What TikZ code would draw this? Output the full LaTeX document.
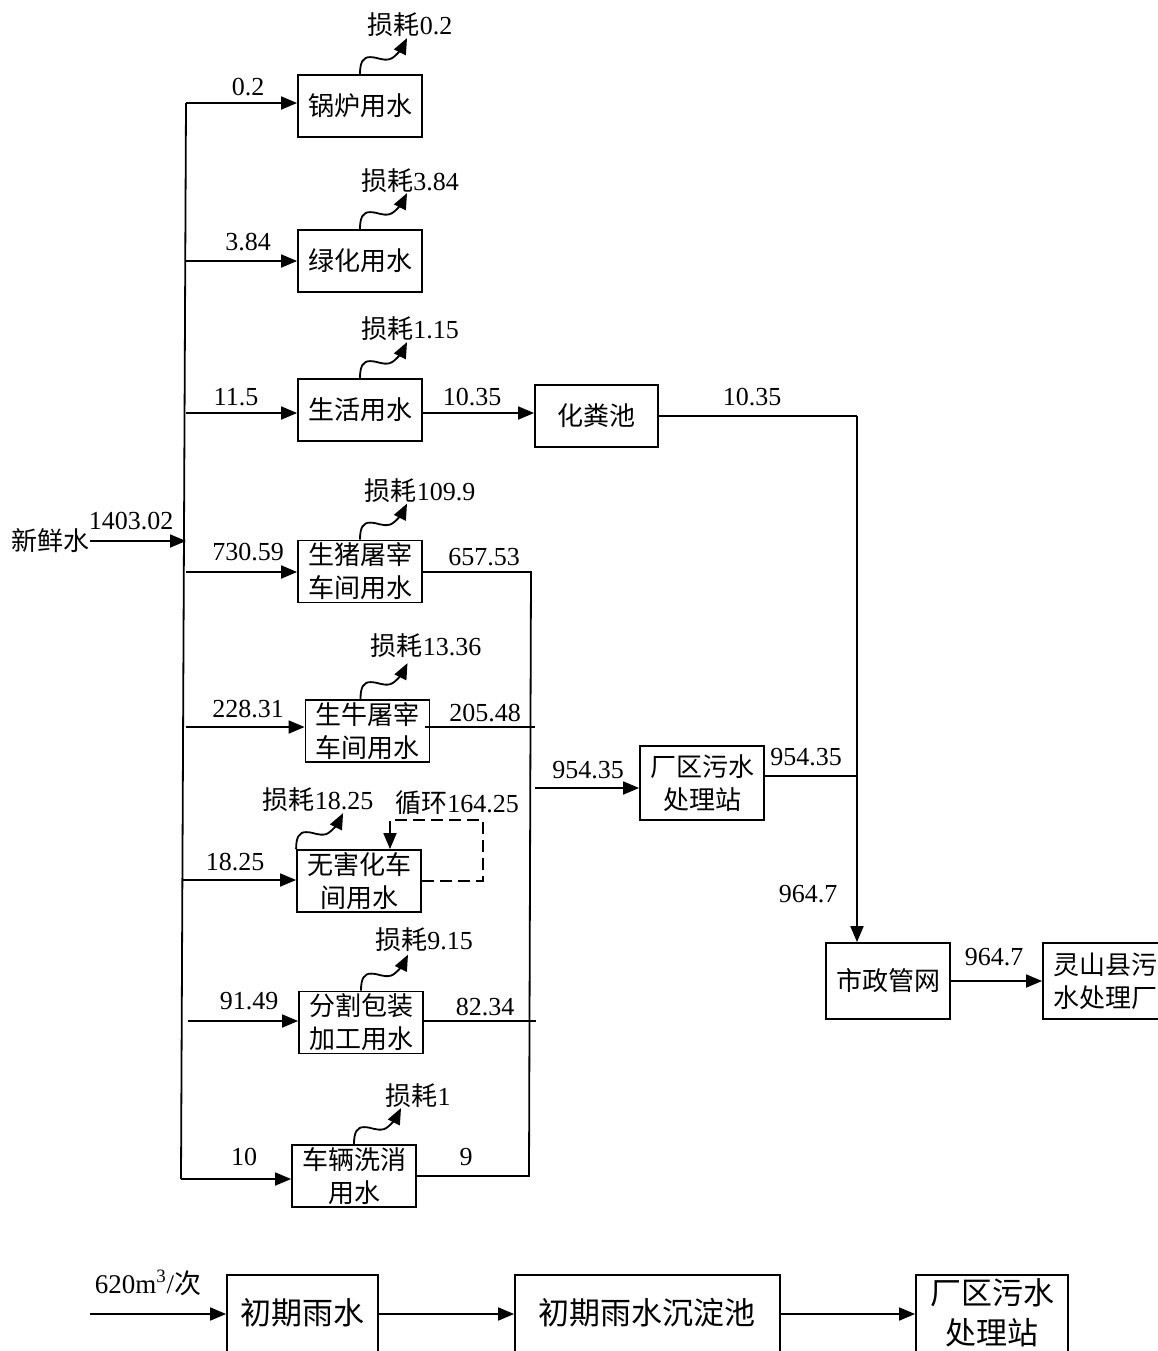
\documentclass[tikz,border=0pt]{standalone}
\usepackage{fontspec}
\setmainfont{Liberation Serif}
\newfontfamily\cjk{Noto Sans CJK SC}
\usetikzlibrary{arrows.meta,calc}
\newcommand\zh[1]{{\cjk #1}}
\newcommand\lossw[1]{\draw[arr] (#1) .. controls +(0,-12) and +(-7,0) .. ++(10,-17) .. controls +(8,0) and +(-8,2) .. ++(20,2) .. controls +(6,-2) and +(-4,8) .. ++(17,-21);}
\begin{document}
\begin{tikzpicture}[x=0.5pt,y=-0.5pt,
 line width=0.9pt,
 box/.style={draw, inner sep=0pt, minimum width=62pt, minimum height=31pt, align=center, font=\fontsize{13}{16.5}\selectfont},
 lbl/.style={inner sep=0pt, font=\fontsize{13}{15}\selectfont},
 big/.style={inner sep=0pt, font=\fontsize{15.5}{20}\selectfont},
 arr/.style={-{Triangle[length=8pt,width=6.5pt]}},
 dsh/.style={dash pattern=on 6pt off 3pt}
]
\useasboundingbox (0,0) rectangle (1158,1351);
\clip (0,0) rectangle (1158,1351);

% boxes
\node[box] (b1) at (360,106) {\zh{锅炉用水}};
\node[box] (b2) at (360,261) {\zh{绿化用水}};
\node[box] (b3) at (360,410) {\zh{生活用水}};
\node[box, minimum width=61.5pt] (hf) at (596.5,416) {\zh{化粪池}};
\node[box] (b4) at (360,571.5) {\zh{生猪屠宰}\\\zh{车间用水}};
\node[box] (b5) at (367.5,731) {\zh{生牛屠宰}\\\zh{车间用水}};
\node[box] (b6) at (359,881) {\zh{无害化车}\\\zh{间用水}};
\node[box] (b7) at (361,1022.5) {\zh{分割包装}\\\zh{加工用水}};
\node[box] (b8) at (354,1176) {\zh{车辆洗消}\\\zh{用水}};
\node[box, minimum height=37pt] (st) at (702,783) {\zh{厂区污水}\\\zh{处理站}};
\node[box, minimum height=38pt] (sz) at (888,981) {\zh{市政管网}};
\node[box, minimum height=38pt] (ls) at (1105,981) {\zh{灵山县污}\\\zh{水处理厂}};

% main trunk
\coordinate (ttop) at (186,103);
\coordinate (tbot) at (181,1179);
\draw (ttop) -- (tbot);
\node[lbl] (xx) at (50,541) {\zh{新鲜水}};
\coordinate (fin) at (186,541);
\draw[arr] (xx.east) -- (fin);
\node[lbl] (q0) at (131,521) {1403.02};

\coordinate (j2) at (186,261);
\coordinate (j3) at (186,413);
\coordinate (j4) at (186,572);
\coordinate (j5) at (186,727);
\coordinate (j6) at (183,880);
\coordinate (j7) at (188,1021);
\draw[arr] (ttop) -- (b1.west |- ttop);
\draw[arr] (j2) -- (b2.west |- j2);
\draw[arr] (j3) -- (b3.west |- j3);
\draw[arr] (j4) -- (b4.west |- j4);
\draw[arr] (j5) -- (b5.west |- j5);
\draw[arr] (j6) -- (b6.west |- j6);
\draw[arr] (j7) -- (b7.west |- j7);
\draw[arr] (tbot) -- (b8.west |- tbot);

\node[lbl] (q1) at (248,87) {0.2};
\node[lbl] (q2) at (248,242) {3.84};
\node[lbl] (q3) at (236,397) {11.5};
\node[lbl] (q4) at (248,552) {730.59};
\node[lbl] (q5) at (248,709) {228.31};
\node[lbl] (q6) at (235,862) {18.25};
\node[lbl] (q7) at (249,1001) {91.49};
\node[lbl] (q8) at (244,1157) {10};

% losses
\lossw{b1.north}
\lossw{b2.north}
\lossw{b3.north}
\lossw{b4.north}
\lossw{[xshift=-3.5pt]b5.north}
\lossw{b6.north west}
\lossw{b7.north}
\lossw{b8.north}
\node[lbl] (l1) at (410,25) {\zh{损耗}0.2};
\node[lbl] (l2) at (410,181) {\zh{损耗}3.84};
\node[lbl] (l3) at (410,329) {\zh{损耗}1.15};
\node[lbl] (l4) at (420,491) {\zh{损耗}109.9};
\node[lbl] (l5) at (426,646) {\zh{损耗}13.36};
\node[lbl] (l6) at (318,800) {\zh{损耗}18.25};
\node[lbl] (l7) at (424,940) {\zh{损耗}9.15};
\node[lbl] (l8) at (418,1096) {\zh{损耗}1};

% recycle loop
\coordinate (lpa) at (483,820);
\coordinate (lpb) at (390,820);
\draw[dsh,arr] (b6.east) -| (lpa) -- (lpb) -- (lpb |- b6.north);
\node[lbl] (lc) at (457,803) {\zh{循环}164.25};

% domestic -> septic -> municipal
\draw[arr] (b3.east |- j3) -- (hf.west |- j3);
\node[lbl] (q9) at (472,397) {10.35};
\coordinate (c1) at (857,416);
\draw (hf.east) -- (c1);
\draw[arr] (c1) -- (c1 |- sz.north);
\node[lbl] (q10) at (752,397) {10.35};

% wastewater collector
\coordinate (k1) at (531,572);
\coordinate (k2) at (529,1176);
\draw (b4.east |- k1) -- (k1) -- (k2) -- (b8.east |- k2);
\coordinate (o5a) at (425,727);
\coordinate (o5b) at (535,727);
\draw (o5a) -- (o5b);
\coordinate (o7) at (536,1021);
\draw (b7.east |- o7) -- (o7);
\node[lbl] (q11) at (484,557) {657.53};
\node[lbl] (q12) at (485,713) {205.48};
\node[lbl] (q13) at (485,1007) {82.34};
\node[lbl] (q14) at (466,1157) {9};

\coordinate (o9) at (535,788);
\draw[arr] (o9) -- (st.west |- o9);
\node[lbl] (q15) at (588,770) {954.35};
\coordinate (c2) at (857,776);
\draw (st.east |- c2) -- (c2);
\node[lbl] (q16) at (806,757) {954.35};
\node[lbl] (q17) at (808,894) {964.7};
\draw[arr] (sz.east) -- (ls.west);
\node[lbl] (q18) at (994,957) {964.7};

% rainwater
\node[box, minimum width=75.5pt, minimum height=45pt] (r1) at (302.5,1320) {};
\node[big] (r1t) at (302.5,1313) {\zh{初期雨水}};
\node[box, minimum width=132.5pt, minimum height=45pt] (r2) at (647.5,1320) {};
\node[big] (r2t) at (647,1313) {\zh{初期雨水沉淀池}};
\node[box, minimum width=76pt, minimum height=45pt] (r3) at (992,1320) {};
\node[big, align=center] (r3t) at (992,1313) {\zh{厂区污水}\\\zh{处理站}};
\coordinate (rs) at (90,1314);
\draw[arr] (rs) -- (r1.west |- rs);
\draw[arr] (r1.east |- rs) -- (r2.west |- rs);
\draw[arr] (r2.east |- rs) -- (r3.west |- rs);
\node[lbl, font=\fontsize{13.5}{15}\selectfont] (rq) at (148,1283) {620m\textsuperscript{3}/\zh{次}};
\end{tikzpicture}
\end{document}
